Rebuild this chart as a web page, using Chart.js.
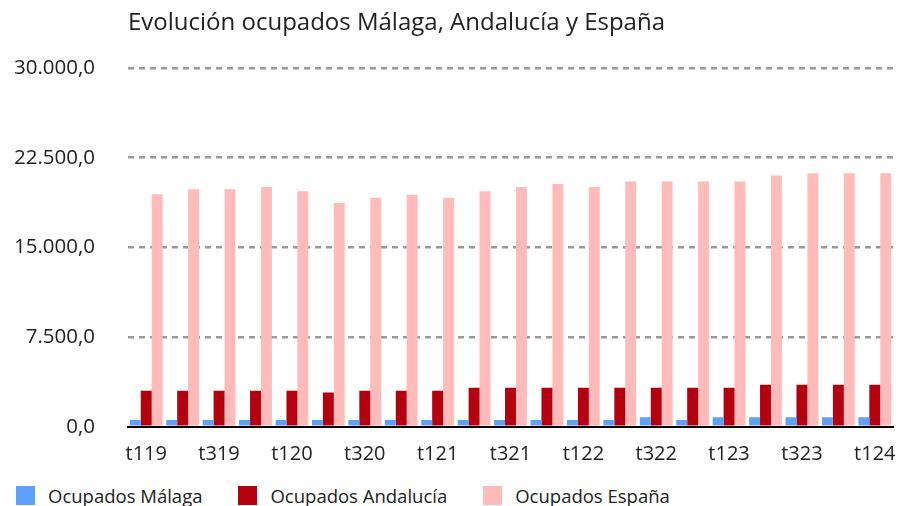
<!DOCTYPE html>
<html>
<head>
<meta charset="utf-8">
<script src="https://cdn.jsdelivr.net/npm/chart.js@4.4.1/dist/chart.umd.min.js"></script>
<style>
  html, body { margin: 0; padding: 0; background: #fff; }
  body { width: 900px; height: 506px; position: relative; overflow: hidden; font-family: "Open Sans", sans-serif; color: #222; }
  #title { position: absolute; left: 128px; top: 4px; font-size: 24px; white-space: nowrap; }
  #chart { position: absolute; left: 0; top: 0; }
  #legend { position: absolute; left: 16px; top: 486px; display: flex; font-size: 18.5px; line-height: 19px; }
  .item { display: flex; align-items: center; margin-right: 36px; height: 19px; }
  .box { width: 19px; height: 19px; margin-right: 13px; }
</style>
</head>
<body>
<canvas id="chart" width="900" height="472"></canvas>
<div id="title">Evolución ocupados Málaga, Andalucía y España</div>
<div id="legend"></div>
<script>
// quarters t1 19 ... t1 24
const categories = ['t119', 't219', 't319', 't419', 't120', 't220', 't320', 't420',
    't121', 't221', 't321', 't421', 't122', 't222', 't322', 't422',
    't123', 't223', 't323', 't423', 't124'];

const malaga = [550, 550, 550, 550, 550, 550, 550, 550, 550, 550, 550,
    550, 550, 550, 800, 550, 800, 800, 800, 800, 800];
const andalucia = [3000, 3000, 3000, 3000, 3000, 2850, 3000, 3000, 3000, 3250, 3250,
    3250, 3250, 3250, 3250, 3250, 3250, 3500, 3500, 3500, 3500];
const espana = [19450, 19850, 19850, 20050, 19700, 18700, 19150, 19400, 19150, 19700, 20050,
    20300, 20050, 20500, 20500, 20500, 20500, 21000, 21200, 21200, 21200];

const yTicks = [0, 7500, 15000, 22500, 30000];

const seriesNames = ['Ocupados Málaga', 'Ocupados Andalucía', 'Ocupados España'];
const seriesColors = ['#5ea1fc', '#b5000f', '#ffbaba'];

function fmt(v) {
    // 30000 -> "30.000,0"
    const s = Math.round(v).toString().replace(/\B(?=(\d{3})+(?!\d))/g, '.');
    return s + ',0';
}

const ctx = document.getElementById('chart').getContext('2d');
new Chart(ctx, {
    type: 'bar',
    data: {
        labels: categories,
        datasets: [malaga, andalucia, espana].map((d, i) => ({
            label: seriesNames[i],
            data: d,
            backgroundColor: seriesColors[i],
            borderWidth: 0,
            categoryPercentage: 0.9,
            barPercentage: 1.0
        }))
    },
    options: {
        responsive: false,
        animation: false,
        layout: { padding: { top: 68, right: 7, left: 0, bottom: 0 } },
        plugins: {
            legend: { display: false },
            title: { display: false },
            tooltip: { enabled: false }
        },
        scales: {
            x: {
                // ticks kept invisible, only used to push labels down
                grid: { display: true, drawOnChartArea: false, drawTicks: true, tickLength: 16, color: 'rgba(0,0,0,0)' },
                border: { display: true, color: '#000', width: 2 },
                afterFit: axis => { axis.height = 40; },
                ticks: {
                    autoSkip: false,
                    maxRotation: 0,
                    padding: 0,
                    color: '#222',
                    font: { family: 'Open Sans', size: 20 },
                    callback: function (val, idx) { return idx % 2 === 0 ? this.getLabelForValue(val) : ''; }
                }
            },
            y: {
                min: 0,
                max: 30000,
                afterBuildTicks: axis => { axis.ticks = yTicks.map(v => ({ value: v })); },
                afterFit: axis => { axis.width = 128; },
                grid: {
                    drawTicks: false,
                    color: c => c.tick && c.tick.value === 0 ? 'rgba(0,0,0,0)' : '#999',
                    lineWidth: 2.5,
                },
                border: { display: false, dash: [6, 5] },
                ticks: {
                    padding: 33,
                    color: '#222',
                    font: { family: 'Open Sans', size: 20.5 },
                    callback: v => fmt(v)
                }
            }
        }
    }
});

// legend
const legend = document.getElementById('legend');
seriesNames.forEach((n, i) => {
    legend.innerHTML += `<div class="item"><div class="box" style="background:${seriesColors[i]}"></div>${n}</div>`;
});
</script>
</body>
</html>
